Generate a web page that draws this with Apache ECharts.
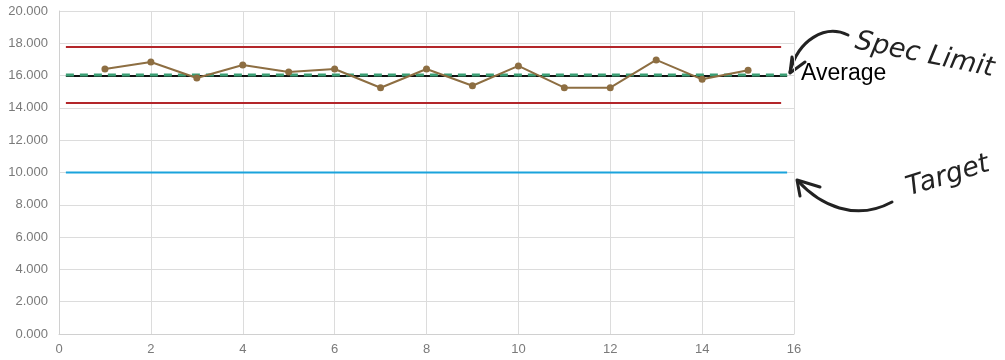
<!DOCTYPE html>
<html>
<head>
<meta charset="utf-8">
<script src="https://cdn.jsdelivr.net/npm/echarts@6/dist/echarts.min.js"></script>
<style>
  html, body { margin: 0; padding: 0; background: #fff; }
  #chart { width: 1005px; height: 360px; }
</style>
</head>
<body>
<div id="chart"></div>
<script>
// Sample index and measured values
const sampleX = [1, 2, 3, 4, 5, 6, 7, 8, 9, 10, 11, 12, 13, 14, 15];
const measured = [16.41, 16.84, 15.85, 16.66, 16.22, 16.41, 15.25, 16.41, 15.37, 16.6, 15.25, 15.25, 16.97, 15.77, 16.33];

// Horizontal reference levels and the x span they cover
const limitSpan = [0.15, 15.72];
const longSpan = [0.15, 15.85];
const upperSpec = 17.77;
const lowerSpec = 14.30;
const averageLevel = 15.97;
const centerLevel = 16.03;
const targetLevel = 10.0;

// Axis ranges
const xRange = [0, 16, 2];
const yRange = [0, 20, 2];

function flat(span, level) {
  return span.map(x => [x, level]);
}

const chart = echarts.init(document.getElementById('chart'));

const refLine = (name, span, level, color, width, type, z) => ({
  name, type: 'line', data: flat(span, level), showSymbol: false, symbol: 'none',
  lineStyle: { color, width, type }, z, silent: true, animation: false
});

const axisFont = { color: '#7a7a7a', fontSize: 13, fontFamily: 'Liberation Sans, Arial' };

chart.setOption({
  animation: false,
  grid: { left: 59, right: 211, top: 11, bottom: 26, containLabel: false },
  xAxis: {
    type: 'value', min: xRange[0], max: xRange[1], interval: xRange[2],
    axisLine: { show: true, lineStyle: { color: '#d0d0d0' } },
    axisTick: { show: false },
    axisLabel: Object.assign({ margin: 9 }, axisFont),
    splitLine: { show: true, lineStyle: { color: '#dcdcdc', width: 1 } }
  },
  yAxis: {
    type: 'value', min: yRange[0], max: yRange[1], interval: yRange[2],
    axisLine: { show: true, lineStyle: { color: '#d0d0d0' } },
    axisTick: { show: false },
    axisLabel: Object.assign({ margin: 11, formatter: v => v.toFixed(3) }, axisFont),
    splitLine: { show: true, lineStyle: { color: '#dcdcdc', width: 1 } }
  },
  series: [
    refLine('Upper Spec', limitSpan, upperSpec, '#b3262a', 2, 'solid', 2),
    refLine('Lower Spec', limitSpan, lowerSpec, '#b3262a', 2, 'solid', 2),
    refLine('Target', longSpan, targetLevel, '#1aa3dc', 2, 'solid', 2),
    Object.assign(refLine('Average', longSpan, averageLevel, '#111', 2, 'solid', 3), {
      endLabel: { show: true, formatter: 'Average', color: '#000', fontSize: 23,
        fontFamily: 'Liberation Sans, Arial', distance: 14, offset: [0, -2] }
    }),
    refLine('Center', longSpan, centerLevel, '#3a9e74', 3, [8, 6], 4),
    {
      name: 'Measured', type: 'line',
      data: sampleX.map((x, i) => [x, measured[i]]),
      symbol: 'circle', symbolSize: 7,
      itemStyle: { color: '#8d6e42' },
      lineStyle: { color: '#8d6e42', width: 2 },
      z: 5, animation: false
    }
  ],
  graphic: [
    // Curved arrow toward the spec limit / average lines
    {
      type: 'bezierCurve',
      shape: { x1: 848, y1: 35, cpx1: 825, cpy1: 24, cpx2: 798, cpy2: 40, x2: 790, y2: 72 },
      style: { stroke: '#222', lineWidth: 3, fill: null, lineCap: 'round' }
    },
    {
      type: 'polyline',
      shape: { points: [[792, 57], [790, 73], [805, 62]] },
      style: { stroke: '#222', lineWidth: 3, fill: null, lineCap: 'round', lineJoin: 'round' }
    },
    {
      type: 'text', x: 858, y: 28, rotation: -0.2,
      style: { text: 'Spec Limit', fill: '#222', fontSize: 27, fontFamily: 'DejaVu Sans',
        fontWeight: 200, fontStyle: 'italic', textVerticalAlign: 'top' }
    },
    // Curved arrow toward the target line
    {
      type: 'bezierCurve',
      shape: { x1: 892, y1: 202, cpx1: 855, cpy1: 222, cpx2: 820, cpy2: 205, x2: 798, y2: 181 },
      style: { stroke: '#222', lineWidth: 3, fill: null, lineCap: 'round' }
    },
    {
      type: 'polyline',
      shape: { points: [[800, 196], [797, 180], [820, 187]] },
      style: { stroke: '#222', lineWidth: 3, fill: null, lineCap: 'round', lineJoin: 'round' }
    },
    {
      type: 'text', x: 903, y: 176, rotation: 0.3,
      style: { text: 'Target', fill: '#222', fontSize: 27, fontFamily: 'DejaVu Sans',
        fontWeight: 200, fontStyle: 'italic', textVerticalAlign: 'top' }
    }
  ]
});
</script>
</body>
</html>
